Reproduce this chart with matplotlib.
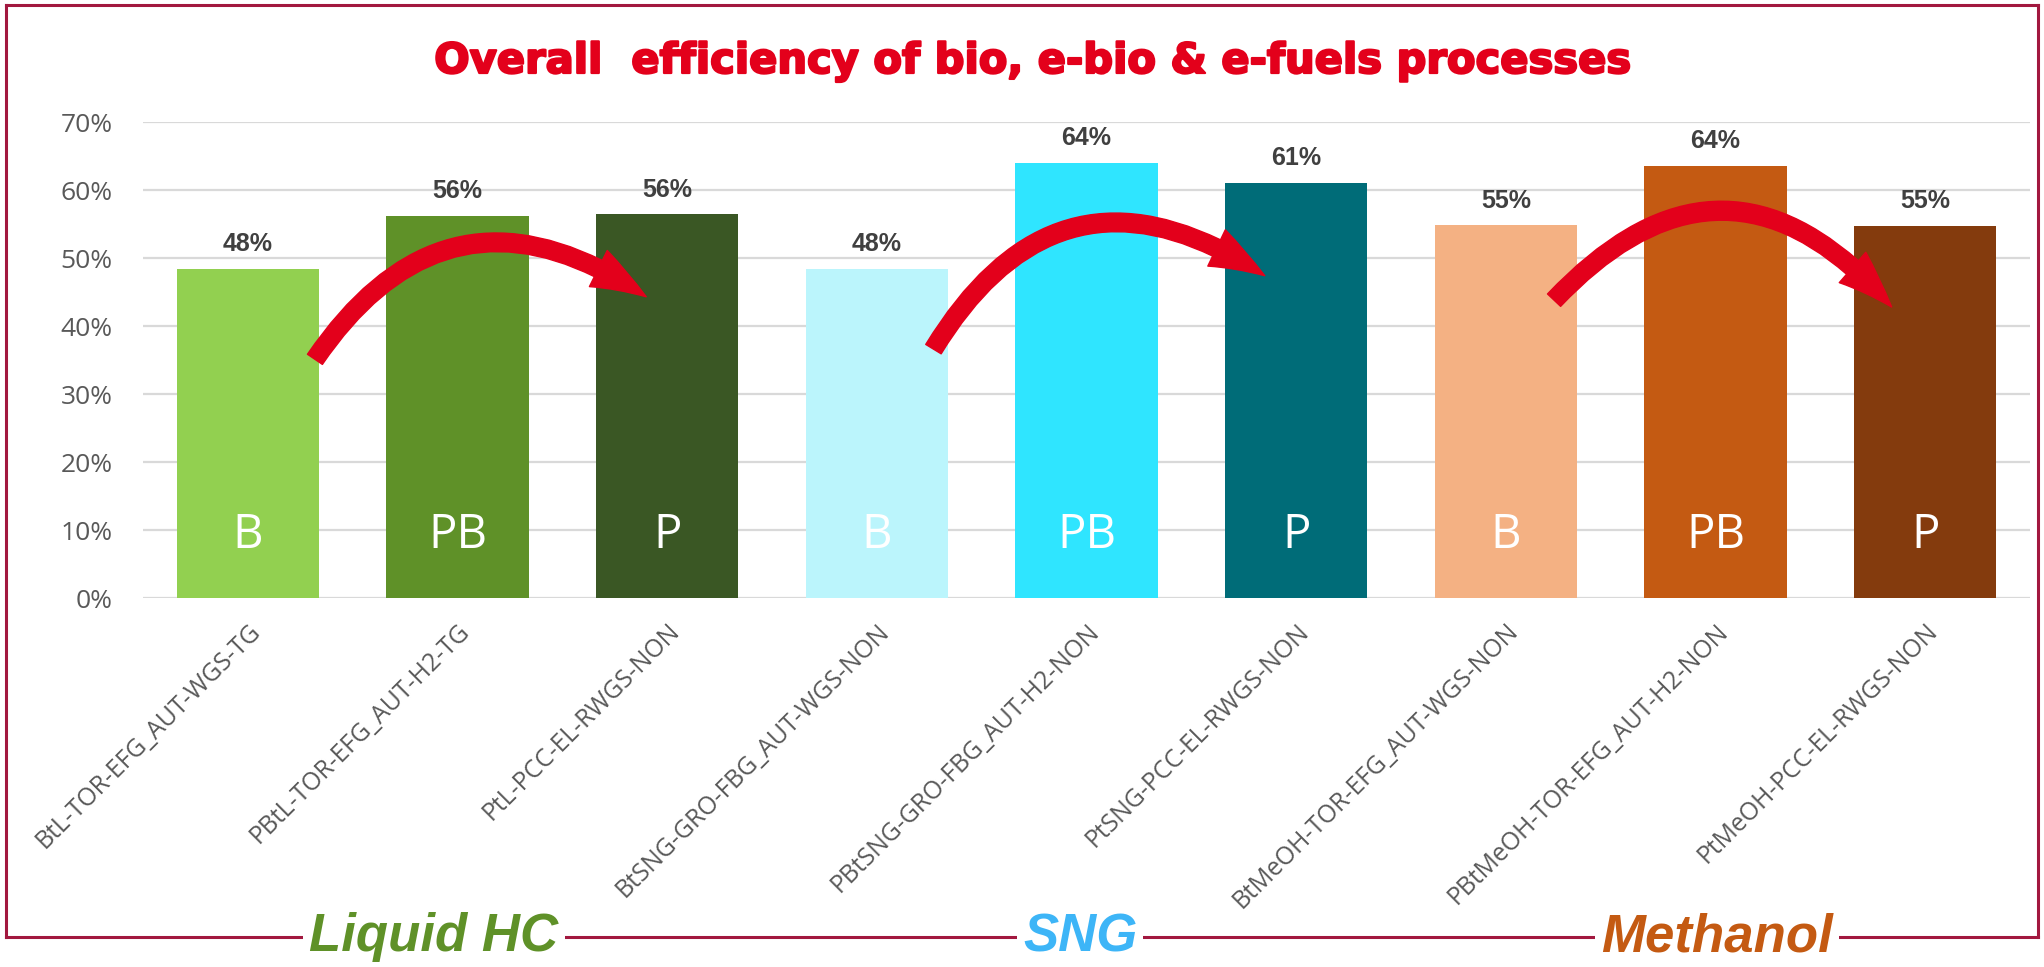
import matplotlib
matplotlib.use("Agg")
import matplotlib.pyplot as plt
import matplotlib.patheffects as pe
from matplotlib.patches import FancyArrowPatch
from matplotlib.lines import Line2D
from matplotlib.ticker import PercentFormatter

# ---- data ----
categories = [
    "BtL-TOR-EFG_AUT-WGS-TG", "PBtL-TOR-EFG_AUT-H2-TG", "PtL-PCC-EL-RWGS-NON",
    "BtSNG-GRO-FBG_AUT-WGS-NON", "PBtSNG-GRO-FBG_AUT-H2-NON", "PtSNG-PCC-EL-RWGS-NON",
    "BtMeOH-TOR-EFG_AUT-WGS-NON", "PBtMeOH-TOR-EFG_AUT-H2-NON", "PtMeOH-PCC-EL-RWGS-NON",
]
efficiency = [48.4, 56.2, 56.4, 48.4, 64.0, 61.1, 54.8, 63.6, 54.7]
value_labels = ["48%", "56%", "56%", "48%", "64%", "61%", "55%", "64%", "55%"]
bar_letters = ["B", "PB", "P", "B", "PB", "P", "B", "PB", "P"]
bar_colors = ["#92D050", "#5F9128", "#3A5724",
              "#BBF5FC", "#2FE5FF", "#006C78",
              "#F4B183", "#C45A12", "#843B0D"]
groups = ["Liquid HC", "SNG", "Methanol"]
group_colors = ["#5F9128", "#3DB5F7", "#C45A12"]
yticks = [0, 10, 20, 30, 40, 50, 60, 70]
title = "Overall  efficiency of bio, e-bio & e-fuels processes"

W, H, DPI = 2044, 967, 100
fig = plt.figure(figsize=(W / DPI, H / DPI), dpi=DPI)
fig.patch.set_facecolor("white")

ax = fig.add_axes([143 / W, 1 - 598 / H, (2030 - 143) / W, (598 - 122) / H])
x = list(range(len(categories)))
bars = ax.bar(x, efficiency, width=0.68, color=bar_colors, zorder=2)
ax.set_xlim(-0.5, len(categories) - 0.5)
ax.set_ylim(0, 70)
ax.set_yticks(yticks)
ax.yaxis.set_major_formatter(PercentFormatter(decimals=0))
ax.grid(axis="y", color="#D9D9D9", linewidth=1.6, zorder=0)
ax.set_axisbelow(True)
for s in ax.spines.values():
    s.set_visible(False)
ax.tick_params(axis="y", length=0, pad=22, labelsize=19, labelcolor="#595959")
for t in ax.get_yticklabels():
    t.set_fontfamily("Open Sans")
ax.set_xticks(x)
ax.set_xticklabels(categories, rotation=45, ha="right", va="top",
                   rotation_mode="anchor", fontsize=17.8, color="#595959",
                   fontfamily="Open Sans")
ax.tick_params(axis="x", length=0, pad=15)

for xi, v, lab, let in zip(x, efficiency, value_labels, bar_letters):
    ax.text(xi, v + 2.6, lab, ha="center", va="baseline", fontsize=18,
            fontweight="bold", color="#404040", fontfamily="Liberation Sans")
    ax.text(xi, 7.3, let, ha="center", va="baseline", fontsize=34,
            color="white", fontfamily="Open Sans")

# curved red arrows (B -> P in each group)
arrow_specs = [((0.32, 35.1), (1.90, 44.3), -0.50),
               ((3.27, 36.6), (4.85, 47.4), -0.52),
               ((6.23, 43.8), (7.84, 42.8), -0.55)]
for (pa, pb, rad) in arrow_specs:
    arr = FancyArrowPatch(pa, pb, connectionstyle=f"arc3,rad={rad}",
                          arrowstyle="simple,head_length=40,head_width=29,tail_width=13",
                          mutation_scale=1, color="#E3001B", shrinkA=0, shrinkB=0,
                          zorder=5)
    ax.add_patch(arr)

# title
fig.text(1032 / W, 1 - 73 / H, title, ha="center", va="baseline", fontsize=30,
         fontweight="bold", color="#E3001B", fontfamily="DejaVu Sans",
         path_effects=[pe.withStroke(linewidth=1.6, foreground="#E3001B")])

# frame
fc = "#A2183F"
L, R, T, B = 6 / W, 2038 / W, 1 - 5 / H, 1 - 937 / H
for xs, ys in [([L, L], [B, T]), ([L, R], [T, T]), ([R, R], [T, B]), ([L, R], [B, B])]:
    fig.add_artist(Line2D(xs, ys, color=fc, linewidth=2.2, transform=fig.transFigure))

group_x = [434, 1080, 1717]
for g, c, gx in zip(groups, group_colors, group_x):
    fig.text(gx / W, B, g, ha="center", va="center", fontsize=38,
             fontweight="bold", fontstyle="italic", color=c,
             fontfamily="Liberation Sans",
             bbox=dict(boxstyle="square,pad=0.12", fc="white", ec="none"))

fig.savefig("out.png", dpi=DPI)
